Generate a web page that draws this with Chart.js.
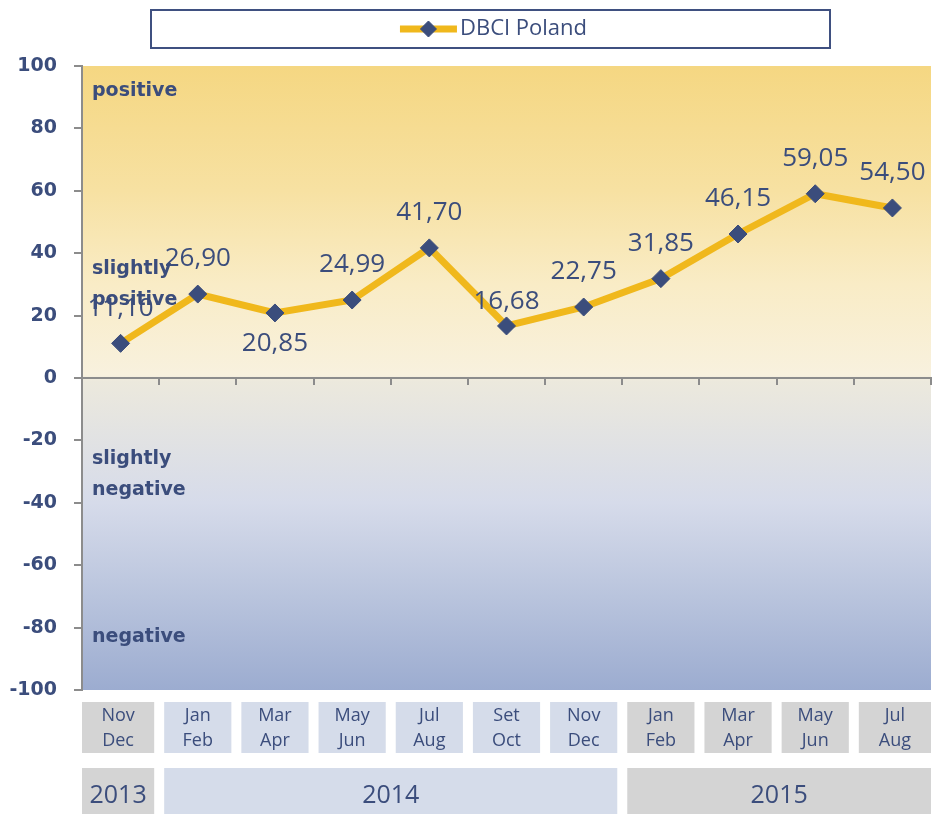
<!DOCTYPE html>
<html>
<head>
<meta charset="utf-8">
<title>DBCI Poland</title>
<script src="https://cdn.jsdelivr.net/npm/chart.js@4.4.1/dist/chart.umd.min.js"></script>
<style>
  html, body { margin: 0; padding: 0; background: #fff; }
  #wrap { width: 932px; height: 814px; }
</style>
</head>
<body>
<div id="wrap"><canvas id="dbciChart" width="932" height="814"></canvas></div>
<script>
// two-month periods, the year each one belongs to, and the index value
var periods = [
  ['Nov', 'Dec'], ['Jan', 'Feb'], ['Mar', 'Apr'], ['May', 'Jun'], ['Jul', 'Aug'],
  ['Set', 'Oct'], ['Nov', 'Dec'], ['Jan', 'Feb'], ['Mar', 'Apr'], ['May', 'Jun'],
  ['Jul', 'Aug']
];
var periodYears = ['2013', '2014', '2014', '2014', '2014', '2014', '2014', '2015', '2015', '2015', '2015'];
var dbciValues = [11.10, 26.90, 20.85, 24.99, 41.70, 16.68, 22.75, 31.85, 46.15, 59.05, 54.50];
var seriesName = 'DBCI Poland';

var yMin = -100;
var yMax = 100;
var yStep = 20;

// zone captions, anchored at the value of their first line
var zoneNames = [['positive'], ['slightly', 'positive'], ['slightly', 'negative'], ['negative']];
var zoneAnchors = [92, 35, -26, -83];

var NAVY = '#3b4d7c';
var GOLD = '#f0b81c';
var AXIS = '#8c8c8c';
var yearColors = { '2013': '#d4d4d4', '2014': '#d5dcea', '2015': '#d4d4d4' };

var bgStops = [
  [100, '#f5d782'], [60, '#f7e1a2'], [30, '#f9ecc6'], [1, '#f8f1de'],
  [-1, '#ece9dd'], [-40, '#d6dbea'], [-70, '#b9c4dd'], [-100, '#9cacd0']
];

var zoneBackground = {
  id: 'zoneBackground',
  beforeDraw: function (chart) {
    var a = chart.chartArea, y = chart.scales.y, ctx = chart.ctx;
    var top = y.getPixelForValue(yMax), bottom = y.getPixelForValue(yMin);
    var g = ctx.createLinearGradient(0, top, 0, bottom);
    bgStops.forEach(function (s) {
      g.addColorStop((y.getPixelForValue(s[0]) - top) / (bottom - top), s[1]);
    });
    ctx.save();
    ctx.fillStyle = g;
    ctx.fillRect(a.left, a.top, a.right - a.left, a.bottom - a.top);
    ctx.restore();
  },
  beforeDatasetsDraw: function (chart) {
    var a = chart.chartArea, y = chart.scales.y, ctx = chart.ctx;
    ctx.save();
    ctx.font = 'bold 19px "DejaVu Sans"';
    ctx.fillStyle = NAVY;
    ctx.textAlign = 'left';
    ctx.textBaseline = 'middle';
    zoneNames.forEach(function (lines, i) {
      var py = y.getPixelForValue(zoneAnchors[i]);
      lines.forEach(function (t, j) {
        ctx.fillText(t, a.left + 10, py + j * 31);
      });
    });
    ctx.restore();
  }
};

var pointLabels = {
  id: 'pointLabels',
  afterDatasetsDraw: function (chart, args, opts) {
    var ctx = chart.ctx;
    var meta = chart.getDatasetMeta(0);
    var data = chart.data.datasets[0].data;
    ctx.save();
    ctx.font = '26px "Open Sans"';
    ctx.fillStyle = NAVY;
    ctx.textAlign = 'center';
    ctx.textBaseline = 'middle';
    meta.data.forEach(function (pt, i) {
      var dy = opts.offsets[i] !== undefined ? opts.offsets[i] : opts.offset;
      ctx.fillText(data[i].toFixed(2).replace('.', ','), pt.x, pt.y + dy);
    });
    ctx.restore();
  }
};

var periodTable = {
  id: 'periodTable',
  afterDraw: function (chart) {
    var ctx = chart.ctx, a = chart.chartArea, x = chart.scales.x;
    var slot = (a.right - a.left) / periods.length;
    var gap = 10;
    ctx.save();
    ctx.textAlign = 'center';
    ctx.textBaseline = 'middle';

    periods.forEach(function (p, i) {
      var cx = x.getPixelForValue(i);
      var l = cx - slot / 2 + gap / 2, r = cx + slot / 2 - gap / 2;
      if (i === 0) { l = a.left; }
      if (i === periods.length - 1) { r = a.right; }
      ctx.fillStyle = yearColors[periodYears[i]];
      ctx.fillRect(l, a.bottom + 12, r - l, 51);
      ctx.fillStyle = NAVY;
      ctx.font = '18px "Open Sans"';
      ctx.fillText(p[0], (l + r) / 2, a.bottom + 26);
      ctx.fillText(p[1], (l + r) / 2, a.bottom + 51);
    });

    var start = 0;
    for (var i = 1; i <= periodYears.length; i++) {
      if (i === periodYears.length || periodYears[i] !== periodYears[start]) {
        var l = start === 0 ? a.left : x.getPixelForValue(start) - slot / 2 + gap / 2;
        var r = i === periodYears.length ? a.right : x.getPixelForValue(i - 1) + slot / 2 - gap / 2;
        ctx.fillStyle = yearColors[periodYears[start]];
        ctx.fillRect(l, a.bottom + 78, r - l, chart.height - a.bottom - 78);
        ctx.fillStyle = NAVY;
        ctx.font = '25px "Open Sans"';
        ctx.fillText(periodYears[start], (l + r) / 2, a.bottom + 106);
        start = i;
      }
    }
    ctx.restore();
  }
};

var boxedLegend = {
  id: 'boxedLegend',
  afterDraw: function (chart) {
    var ctx = chart.ctx;
    var ds = chart.data.datasets[0];
    var bx = 151, by = 10, bw = 679, bh = 38;
    ctx.save();
    ctx.fillStyle = '#ffffff';
    ctx.fillRect(bx, by, bw, bh);
    ctx.strokeStyle = '#3f5080';
    ctx.lineWidth = 2;
    ctx.strokeRect(bx, by, bw, bh);

    ctx.font = '22px "Open Sans"';
    var tw = ctx.measureText(ds.label).width;
    var lineLen = 57;
    var sx = bx + bw / 2 + 3 - (lineLen + 3 + tw) / 2;
    var cy = by + bh / 2;
    ctx.strokeStyle = ds.borderColor;
    ctx.lineWidth = ds.borderWidth;
    ctx.beginPath();
    ctx.moveTo(sx, cy);
    ctx.lineTo(sx + lineLen, cy);
    ctx.stroke();
    ctx.strokeStyle = NAVY;
    ctx.fillStyle = NAVY;
    ctx.lineWidth = 1;
    Chart.helpers.drawPoint(ctx, {
      pointStyle: 'rectRot', radius: 8, borderWidth: 1
    }, sx + lineLen / 2, cy);
    ctx.textAlign = 'left';
    ctx.textBaseline = 'middle';
    ctx.fillText(ds.label, sx + lineLen + 3, cy);
    ctx.restore();
  }
};

new Chart(document.getElementById('dbciChart'), {
  type: 'line',
  data: {
    labels: periods,
    datasets: [{
      label: seriesName,
      data: dbciValues,
      borderColor: GOLD,
      borderWidth: 7,
      tension: 0,
      fill: false,
      pointStyle: 'rectRot',
      pointRadius: 9,
      pointBackgroundColor: NAVY,
      pointBorderColor: NAVY,
      pointBorderWidth: 1,
      clip: false
    }]
  },
  plugins: [zoneBackground, pointLabels, periodTable, boxedLegend],
  options: {
    responsive: false,
    animation: false,
    layout: { autoPadding: false, padding: { top: 66, right: 1, bottom: 124, left: 0 } },
    plugins: {
      legend: { display: false },
      tooltip: { enabled: false },
      pointLabels: { offset: -35, offsets: { 2: 31, 5: -24 } }
    },
    scales: {
      x: {
        type: 'category',
        position: { y: 0 },
        offset: true,
        grid: { drawOnChartArea: false, drawTicks: true, tickLength: 6, color: AXIS, lineWidth: 2, offset: true },
        border: { display: true, color: AXIS, width: 2 },
        ticks: { display: false },
        afterFit: function (scale) { scale.paddingLeft = 0; scale.paddingRight = 0; }
      },
      y: {
        min: yMin,
        max: yMax,
        ticks: {
          stepSize: yStep,
          color: NAVY,
          padding: 17,
          font: { family: 'DejaVu Sans', weight: 'bold', size: 19 }
        },
        grid: { drawOnChartArea: false, tickLength: 8, color: AXIS, lineWidth: 2 },
        border: { color: AXIS, width: 2 },
        afterFit: function (scale) { scale.width = 82; }
      }
    }
  }
});
</script>
</body>
</html>
